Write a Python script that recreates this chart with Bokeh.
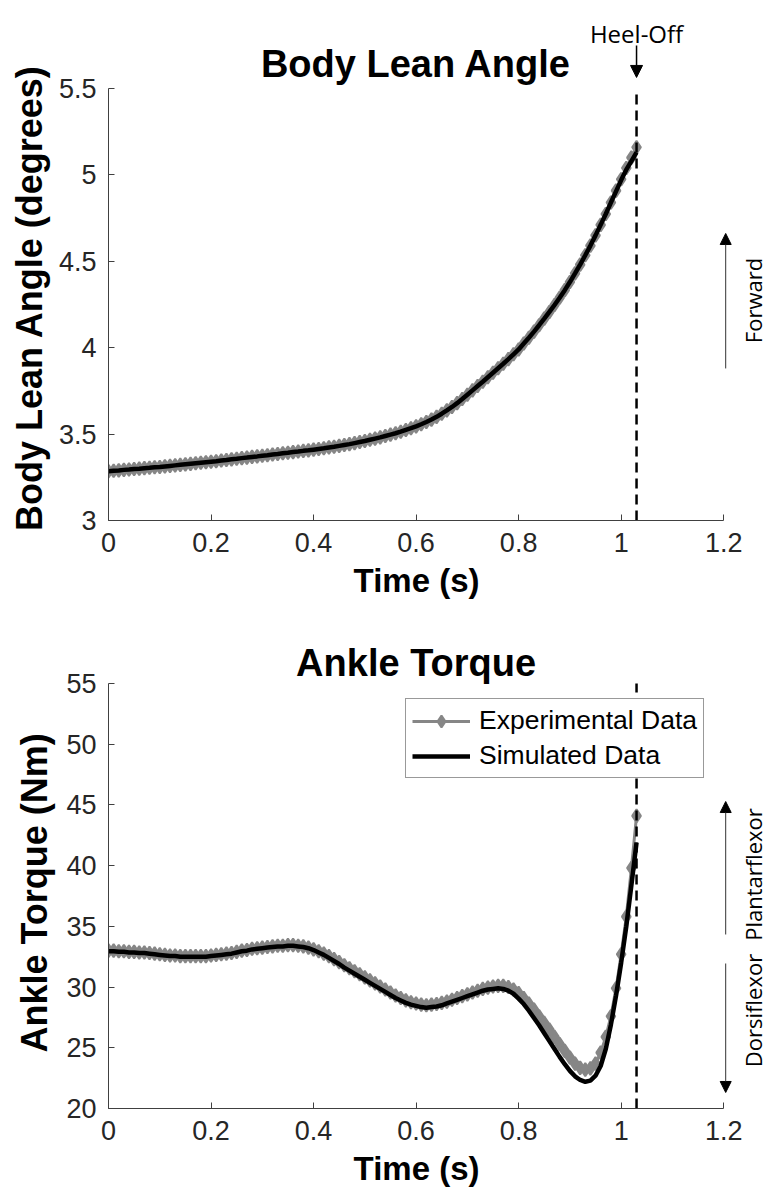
import math
from bokeh.plotting import figure
from bokeh.models import (Range1d, FixedTicker, NumeralTickFormatter, Label, Arrow,
                          NormalHead, Legend, LegendItem, Title)
from bokeh.layouts import column
from bokeh.embed import file_html
from bokeh.resources import INLINE

# ---------------- data ----------------
time_s = [i / 100 for i in range(104)]  # 100 Hz samples, 0 .. 1.03 s
heel_off = 1.03

x_ticks = [0, 0.2, 0.4, 0.6, 0.8, 1.0, 1.2]
lean_ticks = [3, 3.5, 4, 4.5, 5, 5.5]
torque_ticks = [20, 25, 30, 35, 40, 45, 50, 55]

lean_exp = [3.285, 3.288, 3.290, 3.293, 3.295, 3.298, 3.300, 3.303, 3.305, 3.308, 3.310,
            3.313, 3.316, 3.319, 3.322, 3.325, 3.328, 3.331, 3.334, 3.337, 3.340,
            3.343, 3.347, 3.350, 3.354, 3.357, 3.361, 3.364, 3.368, 3.371, 3.375,
            3.378, 3.382, 3.385, 3.389, 3.392, 3.396, 3.399, 3.403, 3.406, 3.410,
            3.414, 3.418, 3.423, 3.427, 3.432, 3.437, 3.442, 3.448, 3.454, 3.460,
            3.467, 3.474, 3.481, 3.489, 3.497, 3.505, 3.514, 3.524, 3.534, 3.545,
            3.557, 3.570, 3.584, 3.600, 3.618, 3.637, 3.657, 3.679, 3.703, 3.728,
            3.753, 3.778, 3.803, 3.829, 3.855, 3.881, 3.907, 3.934, 3.962, 3.990,
            4.024, 4.058, 4.093, 4.130, 4.168, 4.207, 4.247, 4.289, 4.333, 4.380,
            4.430, 4.481, 4.535, 4.591, 4.650, 4.711, 4.774, 4.840, 4.909, 4.975,
            5.040, 5.100, 5.160]

lean_sim = [3.285, 3.288, 3.290, 3.293, 3.295, 3.298, 3.300, 3.303, 3.305, 3.308, 3.310,
            3.313, 3.316, 3.319, 3.322, 3.325, 3.328, 3.331, 3.334, 3.337, 3.340,
            3.343, 3.347, 3.350, 3.354, 3.357, 3.361, 3.364, 3.368, 3.371, 3.375,
            3.378, 3.382, 3.385, 3.389, 3.392, 3.396, 3.399, 3.403, 3.406, 3.410,
            3.414, 3.418, 3.423, 3.427, 3.432, 3.437, 3.442, 3.448, 3.454, 3.460,
            3.467, 3.474, 3.481, 3.489, 3.497, 3.505, 3.514, 3.524, 3.534, 3.545,
            3.557, 3.570, 3.584, 3.600, 3.618, 3.637, 3.657, 3.679, 3.703, 3.728,
            3.753, 3.778, 3.803, 3.829, 3.855, 3.881, 3.907, 3.934, 3.962, 3.990,
            4.024, 4.058, 4.093, 4.130, 4.168, 4.207, 4.247, 4.289, 4.333, 4.380,
            4.430, 4.481, 4.535, 4.591, 4.650, 4.711, 4.774, 4.840, 4.905, 4.970,
            5.030, 5.080, 5.130]

torque_exp = [33.00, 33.00, 32.95, 32.95, 32.90, 32.90, 32.85, 32.85, 32.80, 32.75, 32.70,
              32.65, 32.60, 32.60, 32.55, 32.55, 32.55, 32.55, 32.55, 32.55, 32.60,
              32.65, 32.70, 32.75, 32.80, 32.90, 33.00, 33.05, 33.15, 33.20, 33.25,
              33.30, 33.35, 33.40, 33.40, 33.45, 33.45, 33.40, 33.35, 33.25, 33.10,
              32.95, 32.75, 32.55, 32.30, 32.05, 31.80, 31.55, 31.30, 31.05, 30.80,
              30.55, 30.30, 30.05, 29.80, 29.55, 29.30, 29.10, 28.90, 28.75, 28.65,
              28.55, 28.50, 28.55, 28.60, 28.70, 28.80, 28.95, 29.10, 29.25, 29.40,
              29.55, 29.70, 29.85, 29.95, 30.05, 30.10, 30.10, 30.00, 29.80, 29.50,
              29.10, 28.65, 28.15, 27.60, 27.05, 26.50, 25.90, 25.30, 24.75, 24.20,
              23.70, 23.35, 23.20, 23.30, 23.70, 24.60, 25.90, 27.60, 29.90, 32.70,
              35.80, 39.80, 44.10]

torque_sim = [32.95, 32.95, 32.90, 32.90, 32.85, 32.85, 32.80, 32.80, 32.75, 32.70, 32.65,
              32.60, 32.55, 32.55, 32.50, 32.50, 32.50, 32.50, 32.50, 32.50, 32.55,
              32.60, 32.65, 32.70, 32.75, 32.85, 32.95, 33.00, 33.10, 33.15, 33.20,
              33.25, 33.30, 33.35, 33.35, 33.40, 33.40, 33.35, 33.30, 33.20, 33.05,
              32.85, 32.65, 32.40, 32.15, 31.90, 31.60, 31.35, 31.10, 30.85, 30.60,
              30.35, 30.10, 29.85, 29.60, 29.35, 29.10, 28.90, 28.70, 28.55, 28.45,
              28.35, 28.30, 28.35, 28.40, 28.50, 28.65, 28.80, 28.95, 29.10, 29.25,
              29.40, 29.55, 29.70, 29.80, 29.85, 29.90, 29.85, 29.70, 29.45, 29.05,
              28.60, 28.05, 27.45, 26.85, 26.20, 25.55, 24.90, 24.25, 23.65, 23.10,
              22.65, 22.35, 22.20, 22.30, 22.70, 23.50, 24.90, 26.90, 29.30, 32.00,
              35.00, 38.40, 41.90]

# ---------------- style ----------------
FONT = "Liberation Sans"
NOTE_FONT = "Open Sans"
GRAY = "#868686"
AXIS = "#404040"
NBSP = "\u00a0"

X_MAX = 1.2
X_VIEW = 1.2913          # frame runs on to the right edge for the side notes
NOTE_X = 1.2563          # x of the rotated side notes
NOTE_ARROW_X = 1.2039    # x of the side arrows


def make_fig(height, y_bounds, y_view_top, yticks, ylabel, ylab_offset, ylab_standoff,
             border_bottom):
    p = figure(width=770, height=height, x_range=Range1d(0, X_VIEW),
               y_range=Range1d(y_bounds[0], y_view_top),
               output_backend="svg", toolbar_location=None,
               min_border_left=105, min_border_right=0,
               min_border_top=0, min_border_bottom=border_bottom)
    p.outline_line_color = None
    p.grid.visible = False
    p.xaxis.ticker = FixedTicker(ticks=x_ticks)
    p.yaxis.ticker = FixedTicker(ticks=yticks)
    p.xaxis.bounds = (0, X_MAX)
    p.yaxis.bounds = y_bounds
    p.xaxis.axis_label = "Time (s)" + NBSP * 5
    for ax in (p.xaxis[0], p.yaxis[0]):
        ax.formatter = NumeralTickFormatter(format="0.[0]")
        ax.major_tick_in = 6
        ax.major_tick_out = 0
        ax.minor_tick_line_color = None
        ax.axis_line_color = AXIS
        ax.major_tick_line_color = AXIS
        ax.major_label_text_font = FONT
        ax.major_label_text_font_size = "27px"
        ax.major_label_text_color = "#262626"
        ax.major_label_standoff = 12
        ax.axis_label_text_font = FONT
        ax.axis_label_text_font_style = "bold"
        ax.axis_label_text_color = "black"
    p.xaxis.axis_label_text_font_size = "33px"
    p.xaxis.axis_label_standoff = 7
    # y-axis label as a side title, so that it can be centred on the 'bounds' part of the axis
    p.add_layout(Title(text=ylabel, align="left", offset=ylab_offset, standoff=ylab_standoff,
                       vertical_align="bottom", text_font=FONT, text_font_size="36px",
                       text_font_style="bold", text_color="black"), "left")
    return p


def add_title(p, text, y_top, offset):
    p.add_layout(Label(x=X_MAX / 2, y=y_top, y_offset=offset, text=text, text_align="center",
                       text_baseline="alphabetic", text_font=FONT, text_font_size="38px",
                       text_font_style="bold", text_color="black"))


def draw_series(p, exp, sim, y_lo, y_hi):
    r_line = p.line(time_s, exp, line_color=GRAY, line_width=3)
    r_pts = p.scatter(time_s, exp, marker="diamond", size=13, fill_color=GRAY,
                      line_color=GRAY, line_width=2)
    r_sim = p.line(time_s, sim, line_color="black", line_width=4.5)
    p.segment(x0=[heel_off], y0=[y_lo], x1=[heel_off], y1=[y_hi],
              line_color="black", line_width=2.5, line_dash="10 6")
    return r_line, r_pts, r_sim


def side_arrow(p, y0, y1):
    p.add_layout(Arrow(end=NormalHead(size=11, fill_color="black", line_color="black"),
                       x_start=NOTE_ARROW_X, y_start=y0, x_end=NOTE_ARROW_X, y_end=y1,
                       line_color="#333333", line_width=1))


def side_text(p, y, text):
    p.add_layout(Label(x=NOTE_X, y=y, text=text, angle=math.pi / 2, text_align="center",
                       text_baseline="middle", text_font=NOTE_FONT, text_font_size="22px",
                       text_color="black"))


# ---------------- top: body lean ----------------
# frame: image y 0..520; axis 3..5.5 spans y 88..520
p1 = make_fig(608, (3, 5.5), 6.0093, lean_ticks,
              "Body Lean Angle (degrees)", -10.5, 12, 88)
draw_series(p1, lean_exp, lean_sim, 3, 5.5)
add_title(p1, "Body Lean Angle", 5.5, 25)

p1.add_layout(Label(x=heel_off, y=5.5, y_offset=55, text="Heel-Off", text_align="center",
                    text_baseline="alphabetic", text_font=NOTE_FONT, text_font_size="24px",
                    text_color="black"))
p1.add_layout(Arrow(end=NormalHead(size=12, fill_color="black", line_color="black"),
                    x_start=heel_off, y_start=5.749, x_end=heel_off, y_end=5.564,
                    line_color="black", line_width=1.5))
side_arrow(p1, 3.880, 4.661)
side_text(p1, 4.273, "Forward")

# ---------------- bottom: ankle torque ----------------
# frame: image y 608..1108; axis 20..55 spans y 683..1108
p2 = make_fig(592, (20, 55), 61.176, torque_ticks,
              "Ankle Torque (Nm)", 56, 18, 92)
r_line, r_pts, r_sim = draw_series(p2, torque_exp, torque_sim, 20, 55)
add_title(p2, "Ankle Torque", 55, 20)

side_arrow(p2, 34.33, 45.28)
side_arrow(p2, 31.94, 21.32)
side_text(p2, 39.27, "Plantarflexor")
side_text(p2, 28.07, "Dorsiflexor")

legend = Legend(items=[LegendItem(label="Experimental Data", renderers=[r_line, r_pts]),
                       LegendItem(label="Simulated Data", renderers=[r_sim])],
                location=(297, 330))
legend.label_text_font = FONT
legend.label_text_font_size = "26.5px"
legend.label_text_color = "black"
legend.glyph_width = 58
legend.glyph_height = 30
legend.label_height = 30
legend.label_standoff = 9
legend.padding = 6
legend.spacing = 4
legend.margin = 0
legend.border_line_color = "#333333"
legend.border_line_width = 1
legend.background_fill_alpha = 1.0
p2.add_layout(legend)

layout = column(p1, p2, spacing=0)
open("out.html", "w").write(file_html(layout, INLINE))
